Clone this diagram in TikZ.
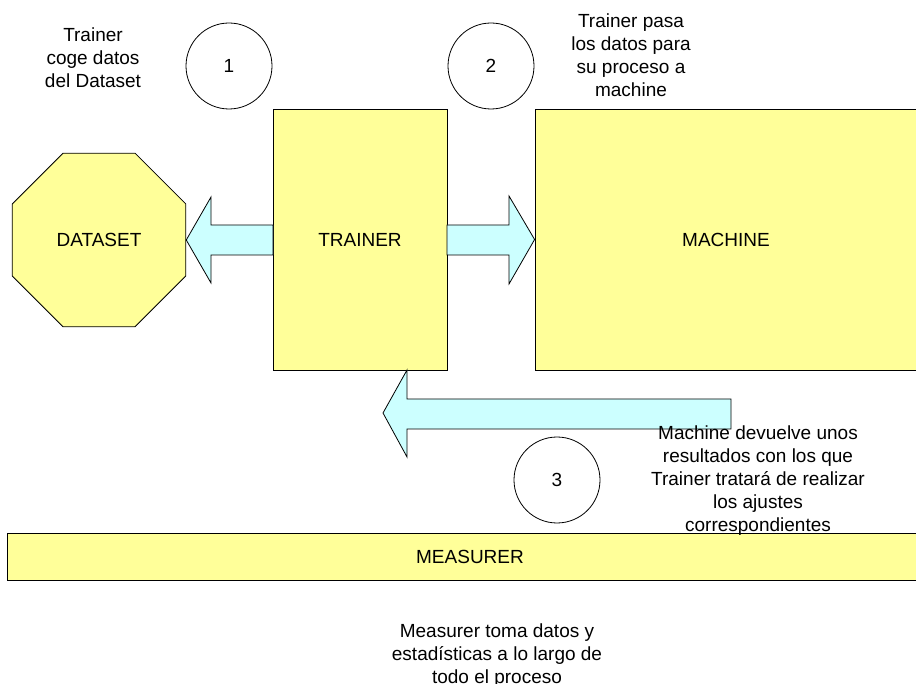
\documentclass[tikz,border=0pt]{standalone}
\usepackage{fontspec}
\setmainfont{Liberation Sans}
\usetikzlibrary{shapes.geometric}
\definecolor{boxyellow}{HTML}{FFFF99}
\definecolor{arrowcyan}{HTML}{CCFFFF}
\tikzset{
  every node/.style={font=\fontsize{19}{23}\selectfont},
  block/.style={draw=black, line width=0.8pt, fill=boxyellow, rectangle, inner sep=0pt},
  blockarrow/.style={draw=black, line width=0.8pt, fill=arrowcyan, line join=miter},
  stepnum/.style={draw=black, line width=0.8pt, circle, minimum size=86pt, inner sep=0pt},
  note/.style={align=center, inner sep=0pt}
}
\begin{document}
\begin{tikzpicture}[x=1pt, y=-1pt]
\useasboundingbox (0,0) rectangle (916,684);

% main components
\node[block, regular polygon, regular polygon sides=8, minimum size=188pt] (dataset) at (99,240) {DATASET};
\node[block, minimum width=174pt, minimum height=261pt] (trainer) at (360,239.5) {TRAINER};
\node[block, minimum width=382pt, minimum height=261pt] (machine) at (726,239.5) {MACHINE};
\node[block, minimum width=926pt, minimum height=47pt] (measurer) at (470,556.5) {MEASURER};

% block arrows
\draw[blockarrow] (273,225) -- (211,225) -- (211,197) -- (dataset.east) -- (211,283) -- (211,255) -- (273,255) -- cycle;
\draw[blockarrow] (447,225) -- (509,225) -- (509,196) -- (machine.west) -- (509,284) -- (509,255) -- (447,255) -- cycle;
\draw[blockarrow] (731,399) -- (407,399) -- (407,370) -- (383,413) -- (407,457) -- (407,429) -- (731,429) -- cycle;

% step markers
\node[stepnum] (s1) at (229,66) {1};
\node[stepnum] (s2) at (491,66) {2};
\node[stepnum] (s3) at (557,480) {3};

% descriptions
\node[note] (n1) at (93,58) {Trainer\\coge datos\\del Dataset};
\node[note] (n2) at (631,55) {Trainer pasa\\los datos para\\su proceso a\\machine};
\node[note] (n3) at (758,481) {Machine devuelve unos\\resultados con los que\\Trainer tratará de realizar\\los ajustes\\correspondientes};
\node[note] (n4) at (497,656) {Measurer toma datos y\\estadísticas a lo largo de\\todo el proceso};
\end{tikzpicture}
\end{document}
